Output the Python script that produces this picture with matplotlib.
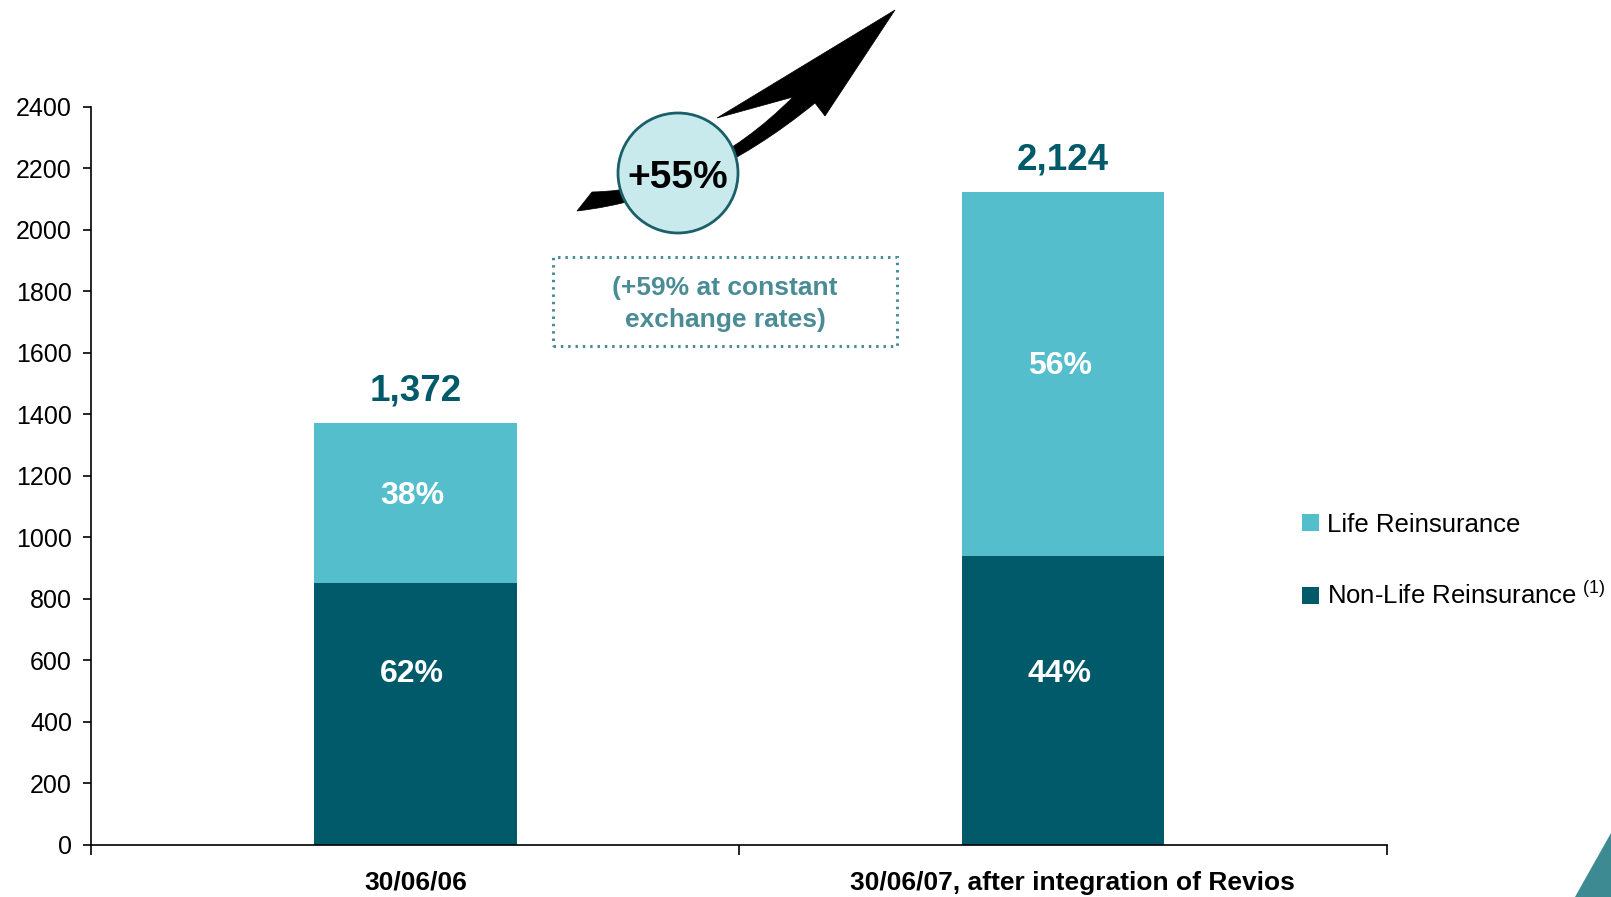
import matplotlib
matplotlib.use("Agg")
import matplotlib.pyplot as plt
from matplotlib.patches import Circle, Rectangle, PathPatch, Polygon
from matplotlib.path import Path
from matplotlib.transforms import ScaledTranslation

plt.rcParams['font.family'] = ['Liberation Sans', 'DejaVu Sans']
plt.rcParams['mathtext.fontset'] = 'custom'
plt.rcParams['mathtext.rm'] = 'Liberation Sans'

# data
categories = ["30/06/06", "30/06/07, after integration of Revios"]
non_life = [850, 940]
life = [522, 1184]
totals = ["1,372", "2,124"]
non_life_pct = ["62%", "44%"]
life_pct = ["38%", "56%"]
yticks = list(range(0, 2401, 200))

dark = "#005A69"
light = "#55BECC"

W, H = 1611, 897
fig = plt.figure(figsize=(W / 100, H / 100), dpi=100)
ax = fig.add_axes([91.4 / W, 1 - 844.5 / H, (1387 - 91.4) / W, (844.5 - 106.9) / H])

xs = [0.5, 1.5]
b1 = ax.bar(xs, non_life, width=0.3125, color=dark, label=r"Non-Life Reinsurance$^{\rm\ (1)}$")
b2 = ax.bar(xs, life, width=0.3125, bottom=non_life, color=light, label="Life Reinsurance")

for i, x in enumerate(xs):
    top = non_life[i] + life[i]
    ax.annotate(totals[i], (x, top), xytext=(0, 16), textcoords="offset points",
                ha="center", va="baseline", fontsize=26.5, fontweight="bold", color=dark)
    ax.text(x - 0.005, 565, non_life_pct[i], ha="center", va="center_baseline",
            fontsize=23, fontweight="bold", color="white")
    ax.text(x - 0.005, non_life[i] + life[i] / 2 + 35, life_pct[i], ha="center",
            va="center_baseline", fontsize=23, fontweight="bold", color="white")

ax.set_xlim(0, 2)
ax.set_ylim(0, 2400)
ax.set_yticks(yticks)
ax.tick_params(axis="y", labelsize=18, length=6, width=1.2, pad=8)
ax.set_xticks([0, 1, 2], labels=[])
ax.tick_params(axis="x", which="major", length=7, width=1.2)
ax.set_xticks(xs, labels=categories, minor=True)
ax.tick_params(axis="x", which="minor", length=0, pad=19)
for lab in ax.get_xticklabels(minor=True):
    lab.set_fontsize(19)
    lab.set_fontweight("bold")
# the long label sits a little right of its bar in the original
lab2 = ax.get_xticklabels(minor=True)[1]
lab2.set_transform(lab2.get_transform() + ScaledTranslation(0.09, 0, fig.dpi_scale_trans))
for s in ["top", "right"]:
    ax.spines[s].set_visible(False)
for s in ["left", "bottom"]:
    ax.spines[s].set_linewidth(1.2)

ax.legend(handles=[b2, b1], loc="center left", bbox_to_anchor=(1289 / W, 1 - 561 / H),
          bbox_transform=fig.transFigure, frameon=False, fontsize=18.5,
          handlelength=0.66, handleheight=0.66, handletextpad=0.3,
          labelspacing=1.75, borderpad=0)

# growth arrow, in pixel coords of the figure (y down)
def inch(x, y):
    return (x / 100, (H - y) / 100)

verts = [inch(592, 192), inch(700, 190), inch(793, 97),
         inch(717, 118), inch(895, 10), inch(825, 116), inch(815, 103),
         inch(700, 197), inch(577, 211), inch(592, 192)]
codes = [Path.MOVETO, Path.CURVE3, Path.CURVE3,
         Path.LINETO, Path.LINETO, Path.LINETO, Path.LINETO,
         Path.CURVE3, Path.CURVE3, Path.CLOSEPOLY]
fig.patches.append(PathPatch(Path(verts, codes), facecolor="black", edgecolor="black",
                             lw=0.5, transform=fig.dpi_scale_trans))
fig.patches.append(Circle(inch(678, 173), 0.60, facecolor="#C8EAEC", edgecolor="#1A5F69",
                          lw=2, transform=fig.dpi_scale_trans))
fig.text(678 / W, 1 - 174 / H, "+55%", ha="center", va="center_baseline",
         fontsize=28, fontweight="bold", color="black")

# dotted box with note
x0, y0 = inch(553, 346)
fig.patches.append(Rectangle((x0, y0), (897 - 553) / 100, (346 - 257) / 100, fill=False,
                             edgecolor="#4A8C96", lw=2.2, linestyle=(0, (0.8, 1.6)),
                             transform=fig.dpi_scale_trans))
fig.text(725 / W, 1 - 304 / H, "(+59% at constant\nexchange rates)", ha="center",
         va="center", fontsize=19, fontweight="bold", color="#4A8C96", linespacing=1.4)

# corner decoration
fig.patches.append(Polygon([inch(1575, 897), inch(1611, 833), inch(1611, 897)],
                           closed=True, facecolor="#3E8A93", edgecolor="none",
                           transform=fig.dpi_scale_trans))

fig.savefig("out.png", dpi=100)
